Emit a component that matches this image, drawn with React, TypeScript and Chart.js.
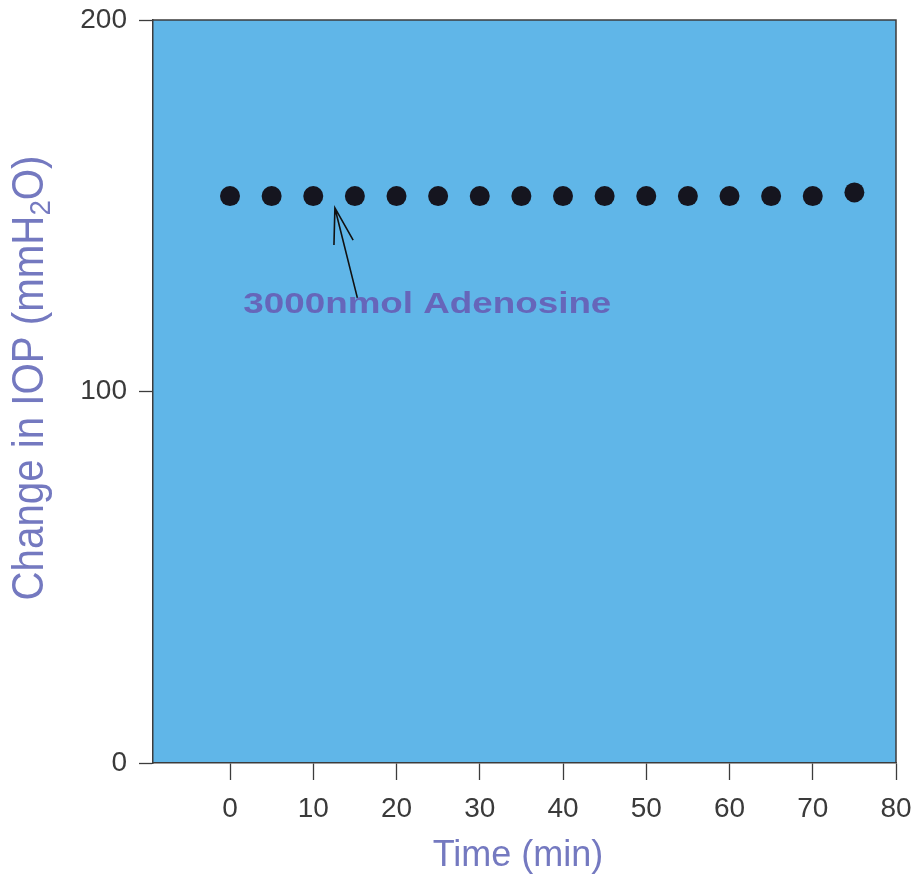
import React, { useEffect, useRef } from "react";
import { Chart, registerables } from "chart.js";

Chart.register(...registerables);

// ---- data ----
const timeMin = [0, 5, 10, 15, 20, 25, 30, 35, 40, 45, 50, 55, 60, 65, 70, 75];
const iopChange = [152.6, 152.6, 152.6, 152.6, 152.6, 152.6, 152.6, 152.6, 152.6, 152.6, 152.6, 152.6, 152.6, 152.6, 152.6, 153.6];
const xTickValues = [0, 10, 20, 30, 40, 50, 60, 70, 80];
const yTickValues = [0, 100, 200];
const xTitle = "Time (min)";
const yTitleParts = ["Change in IOP (mmH", "2", "O)"];
const annotationText = "3000nmol Adenosine";
const arrowTip = { x: 12.6, y: 149.4 };
const arrowTail = { x: 15.3, y: 125.2 };
const annotationAnchor = { x: 1.6, y: 123.4 };

const PLOT_BG = "#60b6e8";
const AXIS_COLOR = "#3c3c3c";
const TITLE_COLOR = "#7479c0";
const NOTE_COLOR = "#6666ba";

const decorPlugin = {
  id: "decor",
  beforeDraw(chart: any) {
    const { ctx, chartArea } = chart;
    ctx.save();
    ctx.fillStyle = PLOT_BG;
    ctx.fillRect(chartArea.left, chartArea.top, chartArea.right - chartArea.left, chartArea.bottom - chartArea.top);
    ctx.restore();
  },
  afterDatasetsDraw(chart: any) {
    const { ctx, chartArea, scales } = chart;
    const xs = scales.x;
    const ys = scales.y;
    ctx.save();
    // frame top & right
    ctx.strokeStyle = AXIS_COLOR;
    ctx.lineWidth = 1.5;
    ctx.beginPath();
    ctx.moveTo(chartArea.left, chartArea.top);
    ctx.lineTo(chartArea.right, chartArea.top);
    ctx.lineTo(chartArea.right, chartArea.bottom);
    ctx.stroke();

    // arrow
    const tx = xs.getPixelForValue(arrowTip.x);
    const ty = ys.getPixelForValue(arrowTip.y);
    const bx = xs.getPixelForValue(arrowTail.x);
    const by = ys.getPixelForValue(arrowTail.y);
    ctx.strokeStyle = "#111";
    ctx.lineWidth = 1.6;
    ctx.beginPath();
    ctx.moveTo(bx, by);
    ctx.lineTo(tx, ty);
    const ang = Math.atan2(by - ty, bx - tx);
    const hl = 37;
    const ha = (15.5 * Math.PI) / 180;
    ctx.moveTo(tx + hl * Math.cos(ang + ha), ty + hl * Math.sin(ang + ha));
    ctx.lineTo(tx, ty);
    ctx.lineTo(tx + hl * Math.cos(ang - ha), ty + hl * Math.sin(ang - ha));
    ctx.stroke();

    // annotation text
    const ax = xs.getPixelForValue(annotationAnchor.x);
    const ay = ys.getPixelForValue(annotationAnchor.y);
    ctx.font = "bold 29px 'Liberation Sans', Arial, sans-serif";
    ctx.fillStyle = NOTE_COLOR;
    ctx.textBaseline = "middle";
    ctx.textAlign = "left";
    const w = ctx.measureText(annotationText).width;
    const sx = 368 / w;
    ctx.save();
    ctx.translate(ax, ay);
    ctx.scale(sx, 1);
    ctx.fillText(annotationText, 0, 0);
    ctx.restore();

    // x title
    ctx.font = "36px 'Liberation Sans', Arial, sans-serif";
    ctx.fillStyle = TITLE_COLOR;
    ctx.textAlign = "center";
    ctx.textBaseline = "middle";
    ctx.fillText(xTitle, 518, chart.height - 23);

    // y title (rotated, with subscript)
    const mainFont = "38px 'Liberation Sans', Arial, sans-serif";
    const subFont = "26px 'Liberation Sans', Arial, sans-serif";
    ctx.font = mainFont;
    const w0 = ctx.measureText(yTitleParts[0]).width;
    const w2 = ctx.measureText(yTitleParts[2]).width;
    ctx.font = subFont;
    const w1 = ctx.measureText(yTitleParts[1]).width;
    const total = w0 + w1 + w2;
    const lenScale = 445 / total;
    ctx.save();
    ctx.translate(31, 378);
    ctx.rotate(-Math.PI / 2);
    ctx.scale(lenScale, 1.15);
    ctx.textAlign = "left";
    ctx.textBaseline = "middle";
    let cx = -total / 2;
    ctx.font = mainFont;
    ctx.fillText(yTitleParts[0], cx, 0);
    cx += w0;
    ctx.font = subFont;
    ctx.fillText(yTitleParts[1], cx, 9);
    cx += w1;
    ctx.font = mainFont;
    ctx.fillText(yTitleParts[2], cx, 0);
    ctx.restore();

    ctx.restore();
  },
};

export default function App() {
  const ref = useRef<HTMLCanvasElement | null>(null);
  useEffect(() => {
    if (!ref.current) return;
    const chart = new Chart(ref.current, {
      type: "scatter",
      data: {
        datasets: [
          {
            data: timeMin.map((t, i) => ({ x: t, y: iopChange[i] })),
            backgroundColor: "#15151f",
            borderColor: "#15151f",
            borderWidth: 0,
            pointRadius: 10,
            pointHoverRadius: 10,
            showLine: false,
          },
        ],
      },
      options: {
        responsive: false,
        devicePixelRatio: 1,
        animation: false,
        layout: { padding: { top: 20, right: 20, left: 0, bottom: 0 } },
        plugins: { legend: { display: false }, tooltip: { enabled: false }, title: { display: false } },
        scales: {
          x: {
            type: "linear",
            min: -9.25,
            max: 80,
            afterBuildTicks: (scale: any) => {
              scale.ticks = xTickValues.map((v) => ({ value: v }));
            },
            afterFit: (scale: any) => {
              scale.height = 116;
              scale.paddingLeft = 0;
              scale.paddingRight = 0;
            },
            grid: { drawOnChartArea: false, drawTicks: true, tickLength: 17, tickColor: AXIS_COLOR, tickWidth: 1.3 },
            border: { display: true, color: AXIS_COLOR, width: 1.5 },
            ticks: {
              padding: 12,
              color: "#3a3a3a",
              font: { family: "'Liberation Sans', Arial, sans-serif", size: 28 },
              maxRotation: 0,
              autoSkip: false,
            },
          },
          y: {
            type: "linear",
            min: 0,
            max: 200,
            afterBuildTicks: (scale: any) => {
              scale.ticks = yTickValues.map((v) => ({ value: v }));
            },
            afterFit: (scale: any) => {
              scale.width = 153;
              scale.paddingTop = 0;
              scale.paddingBottom = 0;
            },
            grid: { drawOnChartArea: false, drawTicks: true, tickLength: 14, tickColor: AXIS_COLOR, tickWidth: 1.3 },
            border: { display: true, color: AXIS_COLOR, width: 1.5 },
            ticks: {
              padding: 12,
              color: "#3a3a3a",
              font: { family: "'Liberation Sans', Arial, sans-serif", size: 28 },
              autoSkip: false,
            },
          },
        },
      },
      plugins: [decorPlugin],
    } as any);
    return () => chart.destroy();
  }, []);
  return (
    <div style={{ position: "fixed", left: 0, top: 0, width: 916, height: 879, background: "#fff" }}>
      <canvas ref={ref} width={916} height={879} style={{ display: "block" }} />
    </div>
  );
}
